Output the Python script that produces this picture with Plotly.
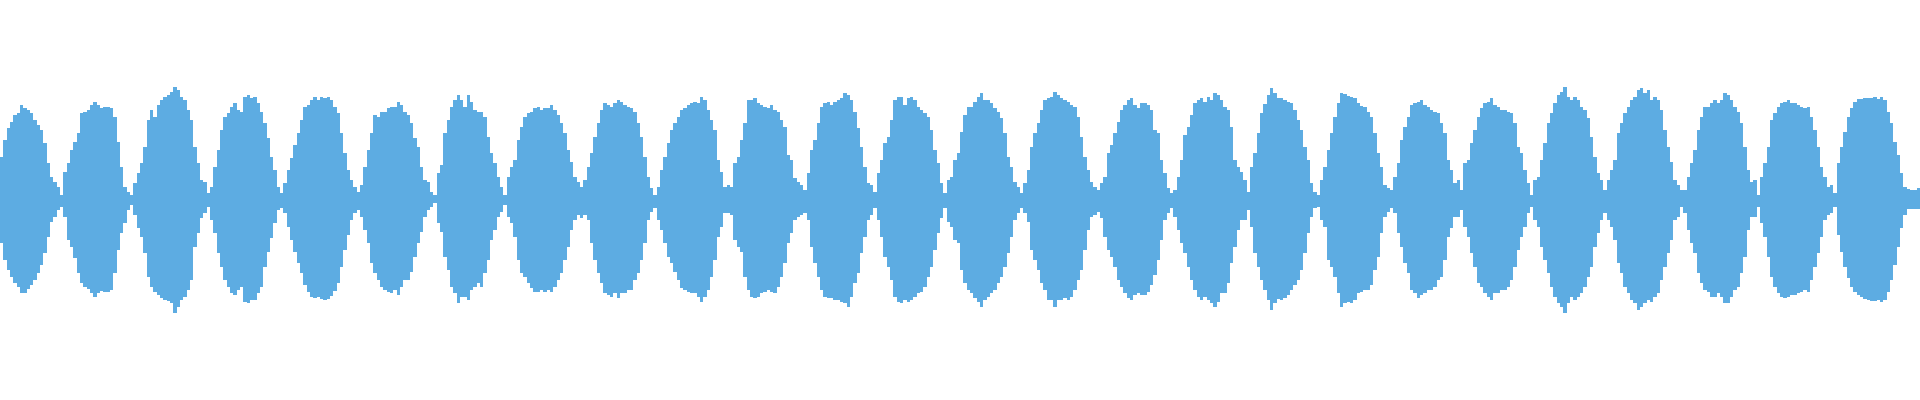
import plotly.graph_objects as go

# Waveform envelope (peak amplitude above / below zero),
# 72 samples per segment, 8 segments
top_seg1 = [43,60,72,78,85,87,95,92,90,87, 80,75,70,57,37,23,18,13,5,28, 37,50,58,67,87,88,90,95,98,95,
            92,93,93,92,83,58,33,13,8,5, 17,27,37,53,80,90,83,95,100,103, 105,108,113,110,103,100,90,80,53,37,
            20,18,7,13,33,50,70,83,87,93, 97,90]
top_seg2 = [88,103,105,102,103,97,88,77,62,43, 30,13,7,17,30,42,55,67,80,93, 95,100,103,100,103,102,103,100,93,87,
            67,47,30,20,13,8,15,33,50,67, 85,83,88,88,92,93,93,98,95,88, 85,77,62,53,33,20,18,8,5,27,
            35,67,80,93,100,105,100,93,105,98, 90,88]
top_seg3 = [88,83,63,47,37,23,13,5,23,33, 40,60,73,83,87,88,92,93,90,92, 92,95,90,85,77,67,50,38,23,18,
            13,20,33,47,63,77,90,97,95,93, 97,100,98,95,93,92,88,77,63,43, 23,12,5,13,30,43,57,70,77,83,
            90,92,95,97,98,97,103,100,90,80, 70,40]
top_seg4 = [28,13,15,13,37,43,60,77,100,100, 102,97,95,93,92,95,90,88,80,73, 45,40,22,18,15,10,27,50,60,77,
            93,97,98,95,98,100,102,107,105,100, 88,72,53,33,17,15,8,27,40,57, 63,80,100,103,103,95,102,103,100,93,
            90,87,83,70,50,37,17,7,20,23, 40,47]
top_seg5 = [68,85,93,93,98,103,107,100,100,97, 92,88,82,67,43,33,18,13,7,17, 30,53,67,77,90,100,102,103,108,105,
            102,100,98,95,93,83,63,43,30,18, 13,10,17,23,47,55,67,78,90,95, 100,102,95,92,97,97,95,90,70,67,
            40,27,12,7,10,23,40,65,73,85, 97,100]
top_seg6 = [102,98,103,100,107,105,100,93,90,73, 40,33,28,20,8,33,47,67,87,96, 105,112,107,102,102,100,98,97,90,80,
            70,53,40,17,8,5,20,33,50,67, 83,97,107,106,104,103,102,97,94,93, 88,83,67,47,33,15,12,10,23,37,
            60,73,83,95,97,98,100,95,93,90, 88,87]
top_seg7 = [77,67,40,30,17,20,10,37,40,57, 70,83,92,97,98,102,95,93,90,90, 88,87,77,53,47,30,17,5,20,23,
            40,57,77,87,97,105,108,113,103,100, 103,100,93,90,82,63,43,27,20,10, 20,30,40,67,77,87,93,100,103,110,
            112,107,110,100,103,100,90,70,53,38, 20,15]
top_seg8 = [10,10,23,37,50,70,83,93,93,97, 100,97,100,107,105,100,93,88,77,53, 30,18,20,5,23,37,53,80,87,93,
            97,98,100,97,97,95,93,92,93,83, 70,53,33,23,13,15,7,37,53,68, 83,92,98,101,101,102,102,102,103,101,
            103,100,88,77,58,45,27,13,11,10, 10,12]

bot_seg1 = [43,60,70,77,83,87,93,93,89,85, 80,73,65,53,37,22,17,10,7,17, 40,47,58,73,83,87,89,93,97,93,
            91,92,92,90,73,50,33,23,10,5, 15,28,37,53,77,87,92,95,98,100, 101,103,113,107,100,97,90,80,47,33,
            18,13,7,20,33,53,67,80,87,93, 95,90]
bot_seg2 = [87,102,103,100,100,93,87,67,52,38, 23,10,8,13,27,40,52,63,73,85, 92,97,98,97,99,100,99,96,91,83,
            67,50,35,20,13,10,17,30,43,63, 73,80,87,90,92,93,90,95,87,80, 80,72,57,43,32,17,10,7,3,23,
            32,57,70,87,93,103,97,97,100,90, 87,83]
bot_seg3 = [87,73,60,40,30,17,12,5,17,23, 37,60,73,77,83,88,92,92,90,92, 90,92,87,80,73,60,47,30,20,15,
            18,15,20,43,60,73,83,93,95,97, 93,98,93,93,90,90,80,73,60,43, 20,12,8,20,30,43,57,63,72,80,
            88,90,92,93,93,97,102,97,90,77, 60,37]
bot_seg4 = [27,13,13,15,40,47,52,77,90,97, 98,97,93,92,90,92,93,87,77,63, 43,33,20,17,15,13,20,47,63,77,
            90,97,98,98,100,100,102,103,107,97, 83,73,53,37,20,15,8,20,37,57, 67,80,97,102,103,100,102,100,97,93,
            92,87,77,67,50,33,18,8,22,27, 40,43]
bot_seg5 = [70,83,90,93,98,102,107,100,97,93, 90,83,77,67,53,37,20,13,8,13, 22,50,60,70,83,90,100,100,107,100,
            100,98,100,97,90,80,70,50,30,17, 15,12,18,37,50,57,67,80,87,93, 98,100,95,93,95,95,92,85,75,60,
            40,20,13,8,17,30,43,53,67,80, 90,97]
bot_seg6 = [100,97,100,103,107,102,93,93,83,63, 47,30,20,20,10,27,53,67,80,90, 100,110,103,99,100,98,95,90,85,80,
            70,53,33,17,8,7,20,27,60,67, 77,93,107,103,102,103,100,93,92,90, 90,85,70,57,33,17,12,8,13,33,
            47,63,73,90,93,98,95,93,90,90, 87,80]
bot_seg7 = [77,60,37,28,17,17,10,27,37,53, 67,83,87,93,97,100,93,93,90,90, 87,80,67,50,37,27,13,7,20,27,
            47,60,73,87,97,103,107,113,103,97, 100,97,93,87,77,67,47,33,20,13, 20,27,40,63,73,87,93,100,103,110,
            107,103,100,102,97,93,80,67,53,40, 20,17]
bot_seg8 = [7,13,30,43,53,73,83,90,92,97, 97,93,97,103,103,97,90,87,73,57, 30,17,17,7,23,37,57,77,87,93,
            97,98,97,95,95,93,92,90,92,80, 67,53,37,20,15,13,7,35,52,67, 78,87,92,95,97,99,100,101,101,100,
            102,100,92,80,65,47,28,15,9,9, 9,9]

top = top_seg1 + top_seg2 + top_seg3 + top_seg4 + top_seg5 + top_seg6 + top_seg7 + top_seg8
bottom = bot_seg1 + bot_seg2 + bot_seg3 + bot_seg4 + bot_seg5 + bot_seg6 + bot_seg7 + bot_seg8
idx = list(range(len(top)))

COLOR = "#5DACE2"

fig = go.Figure()
fig.add_bar(x=idx, y=top, marker=dict(color=COLOR, line=dict(width=0)), hoverinfo="skip")
fig.add_bar(x=idx, y=[-b for b in bottom], marker=dict(color=COLOR, line=dict(width=0)), hoverinfo="skip")

fig.update_layout(
    width=1920, height=400,
    margin=dict(l=0, r=0, t=0, b=0),
    barmode="relative", bargap=0,
    showlegend=False,
    paper_bgcolor="white", plot_bgcolor="white",
    xaxis=dict(visible=False, range=[-0.5, len(top) - 0.5], fixedrange=True),
    yaxis=dict(visible=False, range=[-200, 200], fixedrange=True),
)

fig.write_html(
    "out.html",
    config={"displayModeBar": False},
    post_script="document.body.style.margin='0';document.body.style.overflow='hidden';",
)
